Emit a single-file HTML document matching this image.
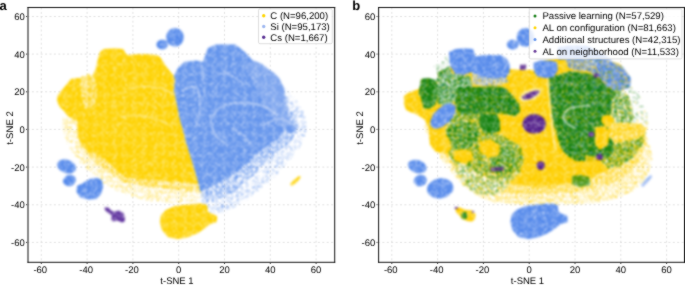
<!DOCTYPE html>
<html><head><meta charset="utf-8"><style>
html,body{margin:0;padding:0;background:#fff;width:685px;height:285px;overflow:hidden}
svg{display:block}
#wrap{width:685px;height:285px}
text{font-family:"Liberation Sans",sans-serif;text-rendering:geometricPrecision}
</style></head><body><div id="wrap">
<svg width="685" height="285" viewBox="0 0 685 285">
<defs><filter id="d10_104" x="0" y="0" width="685" height="285" filterUnits="userSpaceOnUse" color-interpolation-filters="sRGB"><feTurbulence type="fractalNoise" baseFrequency="0.8" numOctaves="1" seed="104" result="n"/><feColorMatrix in="n" type="matrix" values="0 0 0 0 0  0 0 0 0 0  0 0 0 0 0  -20 0 0 0 7.575" result="a"/><feComposite in="SourceGraphic" in2="a" operator="in"/></filter>
<filter id="d10_122" x="0" y="0" width="685" height="285" filterUnits="userSpaceOnUse" color-interpolation-filters="sRGB"><feTurbulence type="fractalNoise" baseFrequency="0.8" numOctaves="1" seed="122" result="n"/><feColorMatrix in="n" type="matrix" values="0 0 0 0 0  0 0 0 0 0  0 0 0 0 0  -20 0 0 0 7.575" result="a"/><feComposite in="SourceGraphic" in2="a" operator="in"/></filter>
<filter id="d10_124" x="0" y="0" width="685" height="285" filterUnits="userSpaceOnUse" color-interpolation-filters="sRGB"><feTurbulence type="fractalNoise" baseFrequency="0.8" numOctaves="1" seed="124" result="n"/><feColorMatrix in="n" type="matrix" values="0 0 0 0 0  0 0 0 0 0  0 0 0 0 0  -20 0 0 0 7.575" result="a"/><feComposite in="SourceGraphic" in2="a" operator="in"/></filter>
<filter id="d14_103" x="0" y="0" width="685" height="285" filterUnits="userSpaceOnUse" color-interpolation-filters="sRGB"><feTurbulence type="fractalNoise" baseFrequency="0.8" numOctaves="1" seed="103" result="n"/><feColorMatrix in="n" type="matrix" values="0 0 0 0 0  0 0 0 0 0  0 0 0 0 0  -20 0 0 0 8.116" result="a"/><feComposite in="SourceGraphic" in2="a" operator="in"/></filter>
<filter id="d15_129" x="0" y="0" width="685" height="285" filterUnits="userSpaceOnUse" color-interpolation-filters="sRGB"><feTurbulence type="fractalNoise" baseFrequency="0.8" numOctaves="1" seed="129" result="n"/><feColorMatrix in="n" type="matrix" values="0 0 0 0 0  0 0 0 0 0  0 0 0 0 0  -20 0 0 0 8.205" result="a"/><feComposite in="SourceGraphic" in2="a" operator="in"/></filter>
<filter id="d16_13" x="0" y="0" width="685" height="285" filterUnits="userSpaceOnUse" color-interpolation-filters="sRGB"><feTurbulence type="fractalNoise" baseFrequency="0.8" numOctaves="1" seed="13" result="n"/><feColorMatrix in="n" type="matrix" values="0 0 0 0 0  0 0 0 0 0  0 0 0 0 0  -20 0 0 0 8.295" result="a"/><feComposite in="SourceGraphic" in2="a" operator="in"/></filter>
<filter id="d18_11" x="0" y="0" width="685" height="285" filterUnits="userSpaceOnUse" color-interpolation-filters="sRGB"><feTurbulence type="fractalNoise" baseFrequency="0.8" numOctaves="1" seed="11" result="n"/><feColorMatrix in="n" type="matrix" values="0 0 0 0 0  0 0 0 0 0  0 0 0 0 0  -20 0 0 0 8.473" result="a"/><feComposite in="SourceGraphic" in2="a" operator="in"/></filter>
<filter id="d22_110" x="0" y="0" width="685" height="285" filterUnits="userSpaceOnUse" color-interpolation-filters="sRGB"><feTurbulence type="fractalNoise" baseFrequency="0.8" numOctaves="1" seed="110" result="n"/><feColorMatrix in="n" type="matrix" values="0 0 0 0 0  0 0 0 0 0  0 0 0 0 0  -20 0 0 0 8.830" result="a"/><feComposite in="SourceGraphic" in2="a" operator="in"/></filter>
<filter id="d26_101" x="0" y="0" width="685" height="285" filterUnits="userSpaceOnUse" color-interpolation-filters="sRGB"><feTurbulence type="fractalNoise" baseFrequency="0.8" numOctaves="1" seed="101" result="n"/><feColorMatrix in="n" type="matrix" values="0 0 0 0 0  0 0 0 0 0  0 0 0 0 0  -20 0 0 0 9.137" result="a"/><feComposite in="SourceGraphic" in2="a" operator="in"/></filter>
<filter id="d30_132" x="0" y="0" width="685" height="285" filterUnits="userSpaceOnUse" color-interpolation-filters="sRGB"><feTurbulence type="fractalNoise" baseFrequency="0.8" numOctaves="1" seed="132" result="n"/><feColorMatrix in="n" type="matrix" values="0 0 0 0 0  0 0 0 0 0  0 0 0 0 0  -20 0 0 0 9.399" result="a"/><feComposite in="SourceGraphic" in2="a" operator="in"/></filter>
<filter id="d33_117" x="0" y="0" width="685" height="285" filterUnits="userSpaceOnUse" color-interpolation-filters="sRGB"><feTurbulence type="fractalNoise" baseFrequency="0.8" numOctaves="1" seed="117" result="n"/><feColorMatrix in="n" type="matrix" values="0 0 0 0 0  0 0 0 0 0  0 0 0 0 0  -20 0 0 0 9.595" result="a"/><feComposite in="SourceGraphic" in2="a" operator="in"/></filter>
<filter id="d35_109" x="0" y="0" width="685" height="285" filterUnits="userSpaceOnUse" color-interpolation-filters="sRGB"><feTurbulence type="fractalNoise" baseFrequency="0.8" numOctaves="1" seed="109" result="n"/><feColorMatrix in="n" type="matrix" values="0 0 0 0 0  0 0 0 0 0  0 0 0 0 0  -20 0 0 0 9.725" result="a"/><feComposite in="SourceGraphic" in2="a" operator="in"/></filter>
<filter id="d35_128" x="0" y="0" width="685" height="285" filterUnits="userSpaceOnUse" color-interpolation-filters="sRGB"><feTurbulence type="fractalNoise" baseFrequency="0.8" numOctaves="1" seed="128" result="n"/><feColorMatrix in="n" type="matrix" values="0 0 0 0 0  0 0 0 0 0  0 0 0 0 0  -20 0 0 0 9.725" result="a"/><feComposite in="SourceGraphic" in2="a" operator="in"/></filter>
<filter id="d35_14" x="0" y="0" width="685" height="285" filterUnits="userSpaceOnUse" color-interpolation-filters="sRGB"><feTurbulence type="fractalNoise" baseFrequency="0.8" numOctaves="1" seed="14" result="n"/><feColorMatrix in="n" type="matrix" values="0 0 0 0 0  0 0 0 0 0  0 0 0 0 0  -20 0 0 0 9.725" result="a"/><feComposite in="SourceGraphic" in2="a" operator="in"/></filter>
<filter id="d4_123" x="0" y="0" width="685" height="285" filterUnits="userSpaceOnUse" color-interpolation-filters="sRGB"><feTurbulence type="fractalNoise" baseFrequency="0.8" numOctaves="1" seed="123" result="n"/><feColorMatrix in="n" type="matrix" values="0 0 0 0 0  0 0 0 0 0  0 0 0 0 0  -20 0 0 0 6.630" result="a"/><feComposite in="SourceGraphic" in2="a" operator="in"/></filter>
<filter id="d40_102" x="0" y="0" width="685" height="285" filterUnits="userSpaceOnUse" color-interpolation-filters="sRGB"><feTurbulence type="fractalNoise" baseFrequency="0.8" numOctaves="1" seed="102" result="n"/><feColorMatrix in="n" type="matrix" values="0 0 0 0 0  0 0 0 0 0  0 0 0 0 0  -20 0 0 0 10.039" result="a"/><feComposite in="SourceGraphic" in2="a" operator="in"/></filter>
<filter id="d40_108" x="0" y="0" width="685" height="285" filterUnits="userSpaceOnUse" color-interpolation-filters="sRGB"><feTurbulence type="fractalNoise" baseFrequency="0.8" numOctaves="1" seed="108" result="n"/><feColorMatrix in="n" type="matrix" values="0 0 0 0 0  0 0 0 0 0  0 0 0 0 0  -20 0 0 0 10.039" result="a"/><feComposite in="SourceGraphic" in2="a" operator="in"/></filter>
<filter id="d40_118" x="0" y="0" width="685" height="285" filterUnits="userSpaceOnUse" color-interpolation-filters="sRGB"><feTurbulence type="fractalNoise" baseFrequency="0.8" numOctaves="1" seed="118" result="n"/><feColorMatrix in="n" type="matrix" values="0 0 0 0 0  0 0 0 0 0  0 0 0 0 0  -20 0 0 0 10.039" result="a"/><feComposite in="SourceGraphic" in2="a" operator="in"/></filter>
<filter id="d40_120" x="0" y="0" width="685" height="285" filterUnits="userSpaceOnUse" color-interpolation-filters="sRGB"><feTurbulence type="fractalNoise" baseFrequency="0.8" numOctaves="1" seed="120" result="n"/><feColorMatrix in="n" type="matrix" values="0 0 0 0 0  0 0 0 0 0  0 0 0 0 0  -20 0 0 0 10.039" result="a"/><feComposite in="SourceGraphic" in2="a" operator="in"/></filter>
<filter id="d45_12" x="0" y="0" width="685" height="285" filterUnits="userSpaceOnUse" color-interpolation-filters="sRGB"><feTurbulence type="fractalNoise" baseFrequency="0.8" numOctaves="1" seed="12" result="n"/><feColorMatrix in="n" type="matrix" values="0 0 0 0 0  0 0 0 0 0  0 0 0 0 0  -20 0 0 0 10.286" result="a"/><feComposite in="SourceGraphic" in2="a" operator="in"/></filter>
<filter id="d5_125" x="0" y="0" width="685" height="285" filterUnits="userSpaceOnUse" color-interpolation-filters="sRGB"><feTurbulence type="fractalNoise" baseFrequency="0.8" numOctaves="1" seed="125" result="n"/><feColorMatrix in="n" type="matrix" values="0 0 0 0 0  0 0 0 0 0  0 0 0 0 0  -20 0 0 0 6.787" result="a"/><feComposite in="SourceGraphic" in2="a" operator="in"/></filter>
<filter id="d50_127" x="0" y="0" width="685" height="285" filterUnits="userSpaceOnUse" color-interpolation-filters="sRGB"><feTurbulence type="fractalNoise" baseFrequency="0.8" numOctaves="1" seed="127" result="n"/><feColorMatrix in="n" type="matrix" values="0 0 0 0 0  0 0 0 0 0  0 0 0 0 0  -20 0 0 0 10.532" result="a"/><feComposite in="SourceGraphic" in2="a" operator="in"/></filter>
<filter id="d55_105" x="0" y="0" width="685" height="285" filterUnits="userSpaceOnUse" color-interpolation-filters="sRGB"><feTurbulence type="fractalNoise" baseFrequency="0.8" numOctaves="1" seed="105" result="n"/><feColorMatrix in="n" type="matrix" values="0 0 0 0 0  0 0 0 0 0  0 0 0 0 0  -20 0 0 0 10.778" result="a"/><feComposite in="SourceGraphic" in2="a" operator="in"/></filter>
<filter id="d6_116" x="0" y="0" width="685" height="285" filterUnits="userSpaceOnUse" color-interpolation-filters="sRGB"><feTurbulence type="fractalNoise" baseFrequency="0.8" numOctaves="1" seed="116" result="n"/><feColorMatrix in="n" type="matrix" values="0 0 0 0 0  0 0 0 0 0  0 0 0 0 0  -20 0 0 0 6.945" result="a"/><feComposite in="SourceGraphic" in2="a" operator="in"/></filter>
<filter id="d6_121" x="0" y="0" width="685" height="285" filterUnits="userSpaceOnUse" color-interpolation-filters="sRGB"><feTurbulence type="fractalNoise" baseFrequency="0.8" numOctaves="1" seed="121" result="n"/><feColorMatrix in="n" type="matrix" values="0 0 0 0 0  0 0 0 0 0  0 0 0 0 0  -20 0 0 0 6.945" result="a"/><feComposite in="SourceGraphic" in2="a" operator="in"/></filter>
<filter id="d6_130" x="0" y="0" width="685" height="285" filterUnits="userSpaceOnUse" color-interpolation-filters="sRGB"><feTurbulence type="fractalNoise" baseFrequency="0.8" numOctaves="1" seed="130" result="n"/><feColorMatrix in="n" type="matrix" values="0 0 0 0 0  0 0 0 0 0  0 0 0 0 0  -20 0 0 0 6.945" result="a"/><feComposite in="SourceGraphic" in2="a" operator="in"/></filter>
<filter id="d60_111" x="0" y="0" width="685" height="285" filterUnits="userSpaceOnUse" color-interpolation-filters="sRGB"><feTurbulence type="fractalNoise" baseFrequency="0.8" numOctaves="1" seed="111" result="n"/><feColorMatrix in="n" type="matrix" values="0 0 0 0 0  0 0 0 0 0  0 0 0 0 0  -20 0 0 0 11.030" result="a"/><feComposite in="SourceGraphic" in2="a" operator="in"/></filter>
<filter id="d60_113" x="0" y="0" width="685" height="285" filterUnits="userSpaceOnUse" color-interpolation-filters="sRGB"><feTurbulence type="fractalNoise" baseFrequency="0.8" numOctaves="1" seed="113" result="n"/><feColorMatrix in="n" type="matrix" values="0 0 0 0 0  0 0 0 0 0  0 0 0 0 0  -20 0 0 0 11.030" result="a"/><feComposite in="SourceGraphic" in2="a" operator="in"/></filter>
<filter id="d60_114" x="0" y="0" width="685" height="285" filterUnits="userSpaceOnUse" color-interpolation-filters="sRGB"><feTurbulence type="fractalNoise" baseFrequency="0.8" numOctaves="1" seed="114" result="n"/><feColorMatrix in="n" type="matrix" values="0 0 0 0 0  0 0 0 0 0  0 0 0 0 0  -20 0 0 0 11.030" result="a"/><feComposite in="SourceGraphic" in2="a" operator="in"/></filter>
<filter id="d65_112" x="0" y="0" width="685" height="285" filterUnits="userSpaceOnUse" color-interpolation-filters="sRGB"><feTurbulence type="fractalNoise" baseFrequency="0.8" numOctaves="1" seed="112" result="n"/><feColorMatrix in="n" type="matrix" values="0 0 0 0 0  0 0 0 0 0  0 0 0 0 0  -20 0 0 0 11.335" result="a"/><feComposite in="SourceGraphic" in2="a" operator="in"/></filter>
<filter id="d65_15" x="0" y="0" width="685" height="285" filterUnits="userSpaceOnUse" color-interpolation-filters="sRGB"><feTurbulence type="fractalNoise" baseFrequency="0.8" numOctaves="1" seed="15" result="n"/><feColorMatrix in="n" type="matrix" values="0 0 0 0 0  0 0 0 0 0  0 0 0 0 0  -20 0 0 0 11.335" result="a"/><feComposite in="SourceGraphic" in2="a" operator="in"/></filter>
<filter id="d67_107" x="0" y="0" width="685" height="285" filterUnits="userSpaceOnUse" color-interpolation-filters="sRGB"><feTurbulence type="fractalNoise" baseFrequency="0.8" numOctaves="1" seed="107" result="n"/><feColorMatrix in="n" type="matrix" values="0 0 0 0 0  0 0 0 0 0  0 0 0 0 0  -20 0 0 0 11.457" result="a"/><feComposite in="SourceGraphic" in2="a" operator="in"/></filter>
<filter id="d7_115" x="0" y="0" width="685" height="285" filterUnits="userSpaceOnUse" color-interpolation-filters="sRGB"><feTurbulence type="fractalNoise" baseFrequency="0.8" numOctaves="1" seed="115" result="n"/><feColorMatrix in="n" type="matrix" values="0 0 0 0 0  0 0 0 0 0  0 0 0 0 0  -20 0 0 0 7.102" result="a"/><feComposite in="SourceGraphic" in2="a" operator="in"/></filter>
<filter id="d75_119" x="0" y="0" width="685" height="285" filterUnits="userSpaceOnUse" color-interpolation-filters="sRGB"><feTurbulence type="fractalNoise" baseFrequency="0.8" numOctaves="1" seed="119" result="n"/><feColorMatrix in="n" type="matrix" values="0 0 0 0 0  0 0 0 0 0  0 0 0 0 0  -20 0 0 0 11.945" result="a"/><feComposite in="SourceGraphic" in2="a" operator="in"/></filter>
<filter id="d75_126" x="0" y="0" width="685" height="285" filterUnits="userSpaceOnUse" color-interpolation-filters="sRGB"><feTurbulence type="fractalNoise" baseFrequency="0.8" numOctaves="1" seed="126" result="n"/><feColorMatrix in="n" type="matrix" values="0 0 0 0 0  0 0 0 0 0  0 0 0 0 0  -20 0 0 0 11.945" result="a"/><feComposite in="SourceGraphic" in2="a" operator="in"/></filter>
<filter id="d8_106" x="0" y="0" width="685" height="285" filterUnits="userSpaceOnUse" color-interpolation-filters="sRGB"><feTurbulence type="fractalNoise" baseFrequency="0.8" numOctaves="1" seed="106" result="n"/><feColorMatrix in="n" type="matrix" values="0 0 0 0 0  0 0 0 0 0  0 0 0 0 0  -20 0 0 0 7.260" result="a"/><feComposite in="SourceGraphic" in2="a" operator="in"/></filter>
<filter id="d85_131" x="0" y="0" width="685" height="285" filterUnits="userSpaceOnUse" color-interpolation-filters="sRGB"><feTurbulence type="fractalNoise" baseFrequency="0.8" numOctaves="1" seed="131" result="n"/><feColorMatrix in="n" type="matrix" values="0 0 0 0 0  0 0 0 0 0  0 0 0 0 0  -20 0 0 0 12.752" result="a"/><feComposite in="SourceGraphic" in2="a" operator="in"/></filter><filter id="soft" x="0" y="0" width="685" height="285" filterUnits="userSpaceOnUse" color-interpolation-filters="sRGB"><feConvolveMatrix order="3" kernelMatrix="1 2 1 2 20 2 1 2 1" divisor="32.0" edgeMode="duplicate"/></filter><filter id="bl" x="0" y="0" width="685" height="285" filterUnits="userSpaceOnUse" color-interpolation-filters="sRGB"><feGaussianBlur stdDeviation="0.8"/></filter><filter id="spk" x="0" y="0" width="685" height="285" filterUnits="userSpaceOnUse" color-interpolation-filters="sRGB"><feTurbulence type="fractalNoise" baseFrequency="0.9" numOctaves="1" seed="3" result="n"/><feColorMatrix in="n" type="matrix" values="0 0 0 0 1  0 0 0 0 1  0 0 0 0 1  6 0 0 0 -3.3" result="w"/><feComposite in="w" in2="SourceAlpha" operator="in" result="wm"/><feMerge result="m"><feMergeNode in="SourceGraphic"/><feMergeNode in="wm"/></feMerge><feComponentTransfer in="m"><feFuncR type="linear" slope="1.1494" intercept="-0.1494"/><feFuncG type="linear" slope="1.1494" intercept="-0.1494"/><feFuncB type="linear" slope="1.1494" intercept="-0.1494"/></feComponentTransfer></filter></defs>
<g filter="url(#soft)">
<rect width="685" height="285" fill="#fff"/>
<clipPath id="c0"><rect x="27.5" y="7.5" width="307.2" height="254.8"/></clipPath>
<line x1="41.3" y1="7.5" x2="41.3" y2="262.3" stroke="#dadada" stroke-width="0.8" stroke-dasharray="2 2.4"/>
<line x1="87.1" y1="7.5" x2="87.1" y2="262.3" stroke="#dadada" stroke-width="0.8" stroke-dasharray="2 2.4"/>
<line x1="132.9" y1="7.5" x2="132.9" y2="262.3" stroke="#dadada" stroke-width="0.8" stroke-dasharray="2 2.4"/>
<line x1="178.7" y1="7.5" x2="178.7" y2="262.3" stroke="#dadada" stroke-width="0.8" stroke-dasharray="2 2.4"/>
<line x1="224.5" y1="7.5" x2="224.5" y2="262.3" stroke="#dadada" stroke-width="0.8" stroke-dasharray="2 2.4"/>
<line x1="270.3" y1="7.5" x2="270.3" y2="262.3" stroke="#dadada" stroke-width="0.8" stroke-dasharray="2 2.4"/>
<line x1="316.1" y1="7.5" x2="316.1" y2="262.3" stroke="#dadada" stroke-width="0.8" stroke-dasharray="2 2.4"/>
<line x1="27.5" y1="242.4" x2="334.7" y2="242.4" stroke="#dadada" stroke-width="0.8" stroke-dasharray="2 2.4"/>
<line x1="27.5" y1="204.8" x2="334.7" y2="204.8" stroke="#dadada" stroke-width="0.8" stroke-dasharray="2 2.4"/>
<line x1="27.5" y1="167.1" x2="334.7" y2="167.1" stroke="#dadada" stroke-width="0.8" stroke-dasharray="2 2.4"/>
<line x1="27.5" y1="129.4" x2="334.7" y2="129.4" stroke="#dadada" stroke-width="0.8" stroke-dasharray="2 2.4"/>
<line x1="27.5" y1="91.8" x2="334.7" y2="91.8" stroke="#dadada" stroke-width="0.8" stroke-dasharray="2 2.4"/>
<line x1="27.5" y1="54.1" x2="334.7" y2="54.1" stroke="#dadada" stroke-width="0.8" stroke-dasharray="2 2.4"/>
<line x1="27.5" y1="16.5" x2="334.7" y2="16.5" stroke="#dadada" stroke-width="0.8" stroke-dasharray="2 2.4"/>
<g clip-path="url(#c0)"><g filter="url(#bl)"><g filter="url(#spk)">
<g filter="url(#d18_11)"><polygon points="62,118 63,132 69,147 79,161 94,176 111,188 130,196 150,201 175,203 200,201 204,195 199,184 180,182 160,180 140,179 125,177 117,171 109.5,163.7 98.4,155.8 85.8,149.5 79.5,140 77.5,135 77,120" fill="#FFD500"/></g>
<g filter="url(#d45_12)"><polygon points="79.5,140 84,152 95,162 108,172 122,182 140,186 160,188 180,190 201,192 199,184 180,182 160,180 140,179 125,177 117,171 109.5,163.7 98.4,155.8 85.8,149.5" fill="#FFD500"/></g>
<polygon points="93,75 96,68 98,59 100,52 104,49 115,48.5 123,49 126,54 129,55.5 133,54.5 145,54 157,55 161,58 166,66 170,71 174,76 175,80 174,90 176,100 178,110 180,120 183,130 186,142 190,155 194,168 197,178 199,184 180,182 160,180 140,179 125,177 117,171 109.5,163.7 98.4,155.8 85.8,149.5 79.5,140 77.5,135 77.4,121 74,120 68,116 63,110 59,106 57,100 58,95 62,90 67,84 71,79 78,78 85,79 90,78" fill="#FFD81A"/>
<polygon points="81,77 88,74 95,78 97,90 96,102 91,110 85,108 82,98 80,88" fill="#FFFFFF"/>
<g filter="url(#d65_15)"><polygon points="81,77 88,74 95,78 97,90 96,102 91,110 85,108 82,98 80,88" fill="#FFD500"/></g>
<polygon points="160,57 168,58 178,60 181,64 176,70 172,74 166,66" fill="#FFFFFF" fill-opacity="0.7"/>
<path d="M128,89 C134,87.5 140,86.5 146,86.5 C152,86.8 158,87.5 163,89 C168,90.5 172,92.5 176,96" fill="none" stroke="#fff" stroke-width="1.6" stroke-opacity="0.45" stroke-linecap="round" stroke-linejoin="round"/>
<path d="M120,117 C126,116 131,115.5 136,115.5 C142,116 147,117 152,118.2 C157,119.5 161,120.5 164,122 C167,123.5 170,125 172.5,127.5" fill="none" stroke="#fff" stroke-width="1.4" stroke-opacity="0.4" stroke-linecap="round" stroke-linejoin="round"/>
<polygon points="174,76 178,68 184,62 196,60.5 203,62 205,56 208,48 216,44.5 235,44.5 240,48 247,54 252,60 262,64 268,69 274,73 279,78 284,88 286,100 288,112 291,124 286,130 278,138 268,146 257,153 249,161 241,169 232,175 222.8,180.7 209,187.5 202,192 200,190 197,178 194,168 190,155 186,142 183,130 180,120 178,110 176,100 174,90 175,80" fill="#78A2EF"/>
<g filter="url(#d16_13)"><polygon points="285,88 292,96 300,105 306,118 306,135 298,150 285,165 272,180 258,192 242,203 225,212 210,214 203,205 200,190 209,187.5 222.8,180.7 232,175 241,169 249,161 257,153 268,146 278,138 286,130 291,124 288,112" fill="#6495ED"/></g>
<g filter="url(#d35_14)"><polygon points="288,108 296,116 298,128 292,140 280,150 268.5,157.8 260,167 252.5,176 243,184 234,192 220,198 205,202 201,196 209,187.5 222.8,180.7 232,175 241,169 249,161 257,153 268,146 278,138 286,130 291,124" fill="#6495ED"/></g>
<ellipse cx="291" cy="127.5" rx="5" ry="4.5" fill="#78A2EF"/>
<polygon points="250,62 262,64 268,69 274,73 279,78 284,88 286,100 288,112 291,124 284,130 272,118 262,100 252,80 244,66" fill="#FFFFFF" fill-opacity="0.15"/>
<path d="M182,90.6 C188,88 194,85 197,88 C201,93 200,105 199.6,115 C199,120 197,124 196,126" fill="none" stroke="#fff" stroke-width="1.6" stroke-opacity="0.45" stroke-linecap="round" stroke-linejoin="round"/>
<path d="M201.3,64 C202,70 203,76 203,81" fill="none" stroke="#fff" stroke-width="1.6" stroke-opacity="0.45" stroke-linecap="round" stroke-linejoin="round"/>
<path d="M213.6,115.2 C216,110 219,107 225,105 C235,102 245,102 256,104 C265,106 272,110 277,115" fill="none" stroke="#fff" stroke-width="1.8" stroke-opacity="0.45" stroke-linecap="round" stroke-linejoin="round"/>
<path d="M210,115 C211,122 212,128 214,133 C218,139 222,142 228,145" fill="none" stroke="#fff" stroke-width="1.6" stroke-opacity="0.45" stroke-linecap="round" stroke-linejoin="round"/>
<path d="M262.7,125.7 C268,122 274,119 280,118.7 C286,119 290,122 294,125.7" fill="none" stroke="#fff" stroke-width="1.6" stroke-opacity="0.45" stroke-linecap="round" stroke-linejoin="round"/>
<path d="M222,70 C228,74 236,78 244,84" fill="none" stroke="#fff" stroke-width="1.2" stroke-opacity="0.5" stroke-linecap="round" stroke-linejoin="round"/>
<path d="M232,128 C240,133 248,138 252,146" fill="none" stroke="#fff" stroke-width="1.2" stroke-opacity="0.5" stroke-linecap="round" stroke-linejoin="round"/>
<ellipse cx="175" cy="37.4" rx="8.8" ry="9.3" fill="#6C9AEE"/>
<ellipse cx="162.2" cy="44.6" rx="5.8" ry="4.9" fill="#6C9AEE"/>
<ellipse cx="66.6" cy="166.4" rx="9.8" ry="6.6" fill="#6C9AEE" transform="rotate(20 66.6 166.4)"/>
<ellipse cx="69.5" cy="180.5" rx="6.6" ry="5.6" fill="#6C9AEE" transform="rotate(-20 69.5 180.5)"/>
<polygon points="77,186 83,183 90,179 97,178 102,180 103,187 101,194 96,199 88,199.6 80,197 76.5,192" fill="#6C9AEE"/>
<polygon points="161,215 166,210 175,206 188,204.5 200,203.5 207,205 208,212 212,214 217,216 217,222 210,224 205,228 198,233 188,237 178,239 168,237 162,230 160,222" fill="#FFD81A"/>
<polygon points="104.5,207.5 108,207.3 110,209.5 112,211 114,212 117,211 119,210.5 121,212 123,212.5 124,215 125,218 124.5,221.5 122,222.5 119,221 116,220.5 113,221.5 111,219.5 112,216.5 110,214 107,212 105,210" fill="#7048A8"/>
<polygon points="290,184 294,180 299,176 301,177 297,182 292,186" fill="#FFD81A"/>
</g></g></g>
<rect x="27.5" y="7" width="307.7" height="1" fill="#111"/>
<rect x="27.5" y="7" width="1" height="255.8" fill="#111"/>
<rect x="334.2" y="7" width="1" height="255.8" fill="#111"/>
<rect x="27.5" y="261.8" width="307.7" height="1" fill="#111"/>
<rect x="40.8" y="263" width="1" height="1" fill="#333"/>
<text x="40.3" y="273.2" font-size="9.5" text-anchor="middle" fill="#000">-60</text>
<rect x="86.6" y="263" width="1" height="1" fill="#333"/>
<text x="86.1" y="273.2" font-size="9.5" text-anchor="middle" fill="#000">-40</text>
<rect x="132.4" y="263" width="1" height="1" fill="#333"/>
<text x="131.9" y="273.2" font-size="9.5" text-anchor="middle" fill="#000">-20</text>
<rect x="178.2" y="263" width="1" height="1" fill="#333"/>
<text x="178.7" y="273.2" font-size="9.5" text-anchor="middle" fill="#000">0</text>
<rect x="224.0" y="263" width="1" height="1" fill="#333"/>
<text x="224.5" y="273.2" font-size="9.5" text-anchor="middle" fill="#000">20</text>
<rect x="269.8" y="263" width="1" height="1" fill="#333"/>
<text x="270.3" y="273.2" font-size="9.5" text-anchor="middle" fill="#000">40</text>
<rect x="315.6" y="263" width="1" height="1" fill="#333"/>
<text x="316.1" y="273.2" font-size="9.5" text-anchor="middle" fill="#000">60</text>
<rect x="26.0" y="241.9" width="1" height="1" fill="#333"/>
<text x="24.8" y="245.8" font-size="9.5" text-anchor="end" fill="#000">-60</text>
<rect x="26.0" y="204.2" width="1" height="1" fill="#333"/>
<text x="24.8" y="208.2" font-size="9.5" text-anchor="end" fill="#000">-40</text>
<rect x="26.0" y="166.6" width="1" height="1" fill="#333"/>
<text x="24.8" y="170.5" font-size="9.5" text-anchor="end" fill="#000">-20</text>
<rect x="26.0" y="128.9" width="1" height="1" fill="#333"/>
<text x="24.8" y="132.8" font-size="9.5" text-anchor="end" fill="#000">0</text>
<rect x="26.0" y="91.3" width="1" height="1" fill="#333"/>
<text x="24.8" y="95.2" font-size="9.5" text-anchor="end" fill="#000">20</text>
<rect x="26.0" y="53.6" width="1" height="1" fill="#333"/>
<text x="24.8" y="57.5" font-size="9.5" text-anchor="end" fill="#000">40</text>
<rect x="26.0" y="16.0" width="1" height="1" fill="#333"/>
<text x="24.8" y="19.9" font-size="9.5" text-anchor="end" fill="#000">60</text>
<text x="177" y="284.2" font-size="9.5" text-anchor="middle" fill="#000">t-SNE 1</text>
<text transform="translate(12.9,128) rotate(-90)" font-size="9.6" text-anchor="middle" fill="#000">t-SNE 2</text>
<rect x="258.5" y="8.9" width="73.8" height="34.8" rx="1.5" fill="#fff" fill-opacity="0.82" stroke="#d4d4d4" stroke-width="0.8"/>
<circle cx="263.7" cy="15.7" r="1.7" fill="#FFD500"/>
<text x="270.3" y="19.0" font-size="9.6" fill="#000">C (N=96,200)</text>
<circle cx="263.7" cy="26.5" r="1.7" fill="#9db7f0"/>
<text x="270.3" y="29.8" font-size="9.6" fill="#000">Si (N=95,173)</text>
<circle cx="263.7" cy="37.3" r="1.7" fill="#5B3294"/>
<text x="270.3" y="40.6" font-size="9.6" fill="#000">Cs (N=1,667)</text>
<text x="-0.6" y="10" font-size="13" font-weight="bold" fill="#000">a</text>
<clipPath id="c350"><rect x="378.0" y="7.5" width="307.20000000000005" height="254.8"/></clipPath>
<line x1="391.8" y1="7.5" x2="391.8" y2="262.3" stroke="#dadada" stroke-width="0.8" stroke-dasharray="2 2.4"/>
<line x1="437.6" y1="7.5" x2="437.6" y2="262.3" stroke="#dadada" stroke-width="0.8" stroke-dasharray="2 2.4"/>
<line x1="483.4" y1="7.5" x2="483.4" y2="262.3" stroke="#dadada" stroke-width="0.8" stroke-dasharray="2 2.4"/>
<line x1="529.2" y1="7.5" x2="529.2" y2="262.3" stroke="#dadada" stroke-width="0.8" stroke-dasharray="2 2.4"/>
<line x1="575.0" y1="7.5" x2="575.0" y2="262.3" stroke="#dadada" stroke-width="0.8" stroke-dasharray="2 2.4"/>
<line x1="620.8" y1="7.5" x2="620.8" y2="262.3" stroke="#dadada" stroke-width="0.8" stroke-dasharray="2 2.4"/>
<line x1="666.6" y1="7.5" x2="666.6" y2="262.3" stroke="#dadada" stroke-width="0.8" stroke-dasharray="2 2.4"/>
<line x1="378.0" y1="242.4" x2="685.2" y2="242.4" stroke="#dadada" stroke-width="0.8" stroke-dasharray="2 2.4"/>
<line x1="378.0" y1="204.8" x2="685.2" y2="204.8" stroke="#dadada" stroke-width="0.8" stroke-dasharray="2 2.4"/>
<line x1="378.0" y1="167.1" x2="685.2" y2="167.1" stroke="#dadada" stroke-width="0.8" stroke-dasharray="2 2.4"/>
<line x1="378.0" y1="129.4" x2="685.2" y2="129.4" stroke="#dadada" stroke-width="0.8" stroke-dasharray="2 2.4"/>
<line x1="378.0" y1="91.8" x2="685.2" y2="91.8" stroke="#dadada" stroke-width="0.8" stroke-dasharray="2 2.4"/>
<line x1="378.0" y1="54.1" x2="685.2" y2="54.1" stroke="#dadada" stroke-width="0.8" stroke-dasharray="2 2.4"/>
<line x1="378.0" y1="16.5" x2="685.2" y2="16.5" stroke="#dadada" stroke-width="0.8" stroke-dasharray="2 2.4"/>
<g clip-path="url(#c350)"><g filter="url(#bl)"><g filter="url(#spk)">
<g filter="url(#d26_101)"><polygon points="424,126 430,140 438,154 448,168 460,182 474,194 492,202 515,205 545,205 575,204 600,202 620,197 634,190 645,180 651,168 652,155 648,140 640,128 630,122 500,125 430,120" fill="#FFD500"/></g>
<g filter="url(#d40_102)"><polygon points="440,150 452,165 466,178 482,188 500,193 530,194 560,193 588,190 610,184 626,175 638,162 645,148 646,135 638,125 600,125 500,130" fill="#FFD500"/></g>
<polygon points="404,100 407,93 413,91 419,89 421,83 436,82 440,80 449,72 452,62 458,58 472,58 480,59 500,58 507,60 509,69 520,70 536,70 536,62 550,59 560,58 600,59 620,64 627,74 627,86 620,94 616,104 616,116 624,121 634,124 644,130 640,140 632,150 622,160 605,172 580,182 550,186 520,186 500,182 480,174 462,162 452,156 444,153 434,147 430,138 429,128 424,119 416,114 406,110" fill="#FFD50A"/>
<polygon points="437,72 449,66 452,74 470,76 472,86 466,92 456,100 446,106 438,104 437,90" fill="#FFFFFF"/>
<g filter="url(#d14_103)"><polygon points="437,72 449,66 452,74 470,76 472,86 466,92 456,100 446,106 438,104 437,90" fill="#FFD500"/></g>
<g filter="url(#d10_104)"><polygon points="437,72 449,66 452,74 470,76 472,86 466,92 456,100 446,106 438,104 437,90" fill="#6495ED"/></g>
<g filter="url(#d55_105)"><polygon points="437,72 449,66 452,74 470,76 472,86 466,92 456,100 446,106 438,104 437,90" fill="#228B22"/></g>
<polygon points="438,60 449,56 450,66 437,72 434,66" fill="#FFFFFF"/>
<g filter="url(#d8_106)"><polygon points="438,60 449,56 450,66 437,72 434,66" fill="#228B22"/></g>
<polygon points="449,118 456,112 470,114 480,114 483,131 492,134 500,134 510,140 520,146 524,158 520,172 512,180 500,186 490,190 476,188 464,178 456,166 450,156 446,145 446,130" fill="#FFFFFF"/>
<g filter="url(#d67_107)"><polygon points="449,118 456,112 470,114 480,114 483,131 492,134 500,134 510,140 520,146 524,158 520,172 512,180 500,186 490,190 476,188 464,178 456,166 450,156 446,145 446,130" fill="#FFD500"/></g>
<g filter="url(#d40_108)"><polygon points="449,118 456,112 470,114 480,114 483,131 492,134 500,134 510,140 520,146 524,158 520,172 512,180 500,186 490,190 476,188 464,178 456,166 450,156 446,145 446,130" fill="#228B22"/></g>
<polygon points="458,160 470,168 482,176 494,180 505,178 512,180 504,190 494,195 478,194 464,186 456,172" fill="#FFFFFF"/>
<g filter="url(#d35_109)"><polygon points="458,160 470,168 482,176 494,180 505,178 512,180 504,190 494,195 478,194 464,186 456,172" fill="#FFD500"/></g>
<g filter="url(#d22_110)"><polygon points="458,160 470,168 482,176 494,180 505,178 512,180 504,190 494,195 478,194 464,186 456,172" fill="#228B22"/></g>
<polygon points="446,128 456,122 470,122 479,128 478,140 470,148 458,150 448,145" fill="#FFFFFF"/>
<g filter="url(#d60_111)"><polygon points="446,128 456,122 470,122 479,128 478,140 470,148 458,150 448,145" fill="#FFD500"/></g>
<g filter="url(#d65_112)"><polygon points="446,128 456,122 470,122 479,128 478,140 470,148 458,150 448,145" fill="#228B22"/></g>
<polygon points="490,148 505,146 514,152 516,163 508,175 496,173 489,161" fill="#FFFFFF"/>
<g filter="url(#d60_113)"><polygon points="490,148 505,146 514,152 516,163 508,175 496,173 489,161" fill="#FFD500"/></g>
<g filter="url(#d60_114)"><polygon points="490,148 505,146 514,152 516,163 508,175 496,173 489,161" fill="#228B22"/></g>
<polygon points="626,82 636,90 644,104 648,118 648,128 633,130 633,105" fill="#FFFFFF"/>
<g filter="url(#d7_115)"><polygon points="626,82 636,90 644,104 648,118 648,128 633,130 633,105" fill="#FFD500"/></g>
<g filter="url(#d6_116)"><polygon points="626,82 636,90 644,104 648,118 648,128 633,130 633,105" fill="#228B22"/></g>
<polygon points="612,88 620,89 628,95 632,105 633,118 631,128 624,130 614,128 610,112" fill="#FFFFFF"/>
<g filter="url(#d33_117)"><polygon points="612,88 620,89 628,95 632,105 633,118 631,128 624,130 614,128 610,112" fill="#FFD500"/></g>
<g filter="url(#d40_118)"><polygon points="612,88 620,89 628,95 632,105 633,118 631,128 624,130 614,128 610,112" fill="#228B22"/></g>
<polygon points="606,128 622,130 636,130 646,132 642,146 634,156 622,166 608,168 600,160 604,145" fill="#FFFFFF"/>
<g filter="url(#d75_119)"><polygon points="606,128 622,130 636,130 646,132 642,146 634,156 622,166 608,168 600,160 604,145" fill="#FFD500"/></g>
<g filter="url(#d40_120)"><polygon points="606,128 622,130 636,130 646,132 642,146 634,156 622,166 608,168 600,160 604,145" fill="#228B22"/></g>
<polygon points="421,79 428,78 436,80 438,90 437,100 435,105 430,108.5 423,108.5 418,103 419,92" fill="#30902A"/>
<g filter="url(#d6_121)"><polygon points="421,79 428,78 436,80 438,90 437,100 435,105 430,108.5 423,108.5 418,103 419,92" fill="#FFD500"/></g>
<polygon points="457,88 470,87 480,87 494,86 505,88 513,96 519,104 520,112 515,116 505,114 495,113 480,114 468,115 458,113 455,102" fill="#30902A"/>
<g filter="url(#d10_122)"><polygon points="457,88 470,87 480,87 494,86 505,88 513,96 519,104 520,112 515,116 505,114 495,113 480,114 468,115 458,113 455,102" fill="#FFD500"/></g>
<g filter="url(#d4_123)"><polygon points="457,88 470,87 480,87 494,86 505,88 513,96 519,104 520,112 515,116 505,114 495,113 480,114 468,115 458,113 455,102" fill="#6495ED"/></g>
<polygon points="480,114 497,114 500,122 500,131 492,134 483,131 479,123" fill="#30902A"/>
<polygon points="549,76 556,75.6 570,71.2 585,73 596,75.6 606,86 616.6,93.3 612,100 610,115 608,130 612,140 615,148 610,156 600,160 588,161 576,161 568,156 562,150 559,142 556,132 553,122 551.8,110 550,95" fill="#30902A"/>
<g filter="url(#d10_124)"><polygon points="549,76 556,75.6 570,71.2 585,73 596,75.6 606,86 616.6,93.3 612,100 610,115 608,130 612,140 615,148 610,156 600,160 588,161 576,161 568,156 562,150 559,142 556,132 553,122 551.8,110 550,95" fill="#FFD500"/></g>
<g filter="url(#d5_125)"><polygon points="549,76 556,75.6 570,71.2 585,73 596,75.6 606,86 616.6,93.3 612,100 610,115 608,130 612,140 615,148 610,156 600,160 588,161 576,161 568,156 562,150 559,142 556,132 553,122 551.8,110 550,95" fill="#6495ED"/></g>
<polygon points="572,176 580,175 589,177 590,185 580,187 572,184" fill="#30902A" fill-opacity="0.75"/>
<path d="M574,107.6 C580,106.5 585,106 590,105.8" fill="none" stroke="#fff" stroke-opacity="0.6" stroke-width="1.5"/>
<path d="M547.5,76 C548.5,88 550,104 551.5,122 C552.5,132 554,142 556,150" fill="none" stroke="#fff" stroke-opacity="0.55" stroke-width="2"/>
<path d="M574,107.6 C569,108 565,111 563.7,115.5 C563,119 564,121 566,122.5 C568,124.5 571,126 575.5,128.5" fill="none" stroke="#fff" stroke-opacity="0.7" stroke-width="1.6"/>
<polygon points="404,96 412,92 420,95 423,105 425,112 424,117 418,114 410,112 404,106" fill="#FFD50A"/>
<polygon points="429,132 436,130 446,134 450,140 452,148 446,152 436,152 430,145" fill="#FFD50A"/>
<polygon points="452,151 462,149 472,151 473,160 465,164 455,161" fill="#FFD50A"/>
<polygon points="479,141 492,139.8 500,146 499,156 488,158 480,152" fill="#FFD50A"/>
<polygon points="602,116 608,114.5 614,118 613.6,126 606,127.4 601.5,122" fill="#FFD50A"/>
<polygon points="608,124 622,122 640,124 647,128 644,136 632,140 615,143 608,136" fill="#FFFFFF"/>
<g filter="url(#d75_126)"><polygon points="608,124 622,122 640,124 647,128 644,136 632,140 615,143 608,136" fill="#FFD500"/></g>
<polygon points="595,127 605,126 610,132 608,145 600,150 595,145" fill="#FFD50A"/>
<ellipse cx="591.2" cy="134.4" rx="3.2" ry="2.4" fill="#6A3D9A"/>
<polygon points="554,57.7 566,57.7 566,72.4 555,73" fill="#FFD50A"/>
<polygon points="585,155 598,157 600,168 590,173 585,168" fill="#FFD50A" fill-opacity="0.8"/>
<polygon points="449,52 456,49 466,48.5 473,49 475,55 474,65 472,72 464,75 455,74 450,66" fill="#6C9AEE"/>
<polygon points="471,57 485,55 500,55 506,58 509.7,64 509.7,72 506,78 495,79 480,77 472,73" fill="#6C9AEE"/>
<polygon points="472,73 480,77 495,79 506,78 509,82 500,85 485,86 472,84" fill="#FFFFFF"/>
<g filter="url(#d50_127)"><polygon points="472,73 480,77 495,79 506,78 509,82 500,85 485,86 472,84" fill="#FFD500"/></g>
<g filter="url(#d35_128)"><polygon points="472,73 480,77 495,79 506,78 509,82 500,85 485,86 472,84" fill="#6495ED"/></g>
<ellipse cx="443" cy="116" rx="16" ry="8.5" fill="#6C9AEE" transform="rotate(-45 443 116)"/>
<polygon points="533.5,63 540,60.6 550,60.5 557,62 558,70 554,77 546,78.3 538,77 534,72" fill="#6C9AEE"/>
<polygon points="558,47 570,45.4 586,45.4 597,50 606,56 612,59.4 558,59.4" fill="#6C9AEE"/>
<polygon points="566,59.4 602,59.4 610,61 622.5,66.8 630.7,78 630,88 620,90 614,90 606,86 598,76 588,71 575,70 568,67" fill="#6C9AEE"/>
<g filter="url(#d15_129)"><polygon points="566,59.4 602,59.4 610,61 622.5,66.8 630.7,78 630,88 620,90 614,90 606,86 598,76 588,71 575,70 568,67" fill="#FFD500"/></g>
<g filter="url(#d6_130)"><polygon points="566,59.4 602,59.4 610,61 622.5,66.8 630.7,78 630,88 620,90 614,90 606,86 598,76 588,71 575,70 568,67" fill="#228B22"/></g>
<polygon points="566,59.4 590,59.4 598,64 598,72 588,71 575,70 568,67" fill="#FFFFFF"/>
<g filter="url(#d85_131)"><polygon points="566,59.4 590,59.4 598,64 598,72 588,71 575,70 568,67" fill="#6495ED"/></g>
<g filter="url(#d30_132)"><polygon points="566,59.4 590,59.4 598,64 598,72 588,71 575,70 568,67" fill="#FFD500"/></g>
<ellipse cx="525.5" cy="37.4" rx="8.8" ry="9.3" fill="#6C9AEE"/>
<ellipse cx="512.7" cy="44.6" rx="5.8" ry="4.9" fill="#6C9AEE"/>
<ellipse cx="417.3" cy="166.5" rx="9.6" ry="6.4" fill="#6C9AEE" transform="rotate(20 417.3 166.5)"/>
<ellipse cx="420.3" cy="180.6" rx="6.6" ry="5.6" fill="#6C9AEE" transform="rotate(-20 420.3 180.6)"/>
<ellipse cx="440.2" cy="188.4" rx="13.2" ry="10" fill="#6C9AEE" transform="rotate(-8 440.2 188.4)"/>
<polygon points="511.5,215 516.5,210 525.5,206 538.5,204.5 550.5,203.5 557.5,205 558.5,212 562.5,214 567.5,216 567.5,222 560.5,224 555.5,228 548.5,233 538.5,237 528.5,239 518.5,237 512.5,230 510.5,222" fill="#6C9AEE"/>
<polygon points="641,185 646,179 651,174.7 652,177 647,183 643,187" fill="#6C9AEE" fill-opacity="0.6"/>
<ellipse cx="596" cy="75.5" rx="3" ry="2.5" fill="#6A3D9A" fill-opacity="0.8"/>
<polygon points="520,65 526,64.5 526,69.5 520,70" fill="#6A3D9A"/>
<polygon points="518,98 525,91 534,87.5 542,88.5 540,95 532,100.5 522,101.5" fill="#FFFFFF" fill-opacity="0.6"/>
<polygon points="521.5,97 528,93 535,90.5 540,91 537,95 530,99 524,99.5" fill="#6A3D9A"/>
<ellipse cx="534.2" cy="123.9" rx="11.8" ry="9.9" fill="#6A3D9A"/>
<ellipse cx="540.7" cy="165.6" rx="4.3" ry="4.4" fill="#6A3D9A"/>
<ellipse cx="599.5" cy="157" rx="3.5" ry="3" fill="#6A3D9A"/>
<polygon points="490,167.4 504,166.5 504,170.5 491,171.8" fill="#6A3D9A" fill-opacity="0.8"/>
<polygon points="455.5,208 460,207.5 463,209 467,210 472,210.5 475.5,214 475,219 472,221.5 467,221 462,219 459,215 456,212" fill="#FFD50A"/>
<polygon points="462,212.4 466,212 467.5,216 466,219 462,218.5 461.5,215" fill="#30902A"/>
<ellipse cx="456.3" cy="208" rx="1.8" ry="1.1" fill="#6A3D9A"/>
<ellipse cx="473" cy="212" rx="1.2" ry="0.9" fill="#6A3D9A"/>
</g></g></g>
<rect x="378.1" y="7" width="306.9" height="1" fill="#111"/>
<rect x="378.1" y="7" width="1" height="255.8" fill="#111"/>
<rect x="684.0" y="7" width="1" height="255.8" fill="#111"/>
<rect x="378.1" y="261.8" width="306.9" height="1" fill="#111"/>
<rect x="391.3" y="263" width="1" height="1" fill="#333"/>
<text x="390.8" y="273.2" font-size="9.5" text-anchor="middle" fill="#000">-60</text>
<rect x="437.1" y="263" width="1" height="1" fill="#333"/>
<text x="436.6" y="273.2" font-size="9.5" text-anchor="middle" fill="#000">-40</text>
<rect x="482.9" y="263" width="1" height="1" fill="#333"/>
<text x="482.4" y="273.2" font-size="9.5" text-anchor="middle" fill="#000">-20</text>
<rect x="528.7" y="263" width="1" height="1" fill="#333"/>
<text x="529.2" y="273.2" font-size="9.5" text-anchor="middle" fill="#000">0</text>
<rect x="574.5" y="263" width="1" height="1" fill="#333"/>
<text x="575.0" y="273.2" font-size="9.5" text-anchor="middle" fill="#000">20</text>
<rect x="620.3" y="263" width="1" height="1" fill="#333"/>
<text x="620.8" y="273.2" font-size="9.5" text-anchor="middle" fill="#000">40</text>
<rect x="666.1" y="263" width="1" height="1" fill="#333"/>
<text x="666.6" y="273.2" font-size="9.5" text-anchor="middle" fill="#000">60</text>
<rect x="376.5" y="241.9" width="1" height="1" fill="#333"/>
<text x="375.3" y="245.8" font-size="9.5" text-anchor="end" fill="#000">-60</text>
<rect x="376.5" y="204.2" width="1" height="1" fill="#333"/>
<text x="375.3" y="208.2" font-size="9.5" text-anchor="end" fill="#000">-40</text>
<rect x="376.5" y="166.6" width="1" height="1" fill="#333"/>
<text x="375.3" y="170.5" font-size="9.5" text-anchor="end" fill="#000">-20</text>
<rect x="376.5" y="128.9" width="1" height="1" fill="#333"/>
<text x="375.3" y="132.8" font-size="9.5" text-anchor="end" fill="#000">0</text>
<rect x="376.5" y="91.3" width="1" height="1" fill="#333"/>
<text x="375.3" y="95.2" font-size="9.5" text-anchor="end" fill="#000">20</text>
<rect x="376.5" y="53.6" width="1" height="1" fill="#333"/>
<text x="375.3" y="57.5" font-size="9.5" text-anchor="end" fill="#000">40</text>
<rect x="376.5" y="16.0" width="1" height="1" fill="#333"/>
<text x="375.3" y="19.9" font-size="9.5" text-anchor="end" fill="#000">60</text>
<text x="527.5" y="284.2" font-size="9.5" text-anchor="middle" fill="#000">t-SNE 1</text>
<text transform="translate(363.4,128) rotate(-90)" font-size="9.6" text-anchor="middle" fill="#000">t-SNE 2</text>
<rect x="529.3" y="9" width="152.7" height="49.9" rx="1.5" fill="#fff" fill-opacity="0.82" stroke="#d4d4d4" stroke-width="0.8"/>
<circle cx="535" cy="15.9" r="1.5" fill="#187F18"/>
<text x="542.4" y="19.2" font-size="9.62" fill="#000">Passive learning (N=57,529)</text>
<circle cx="535" cy="27.7" r="1.5" fill="#FFD500"/>
<text x="542.4" y="31.0" font-size="9.62" fill="#000">AL on configuration (N=81,663)</text>
<circle cx="535" cy="39.5" r="1.5" fill="#6495ED"/>
<text x="542.4" y="42.8" font-size="9.62" fill="#000">Additional structures (N=42,315)</text>
<circle cx="535" cy="51.2" r="1.5" fill="#6A3D9A"/>
<text x="542.4" y="54.5" font-size="9.62" fill="#000">AL on neighborhood (N=11,533)</text>
<text x="352.2" y="10" font-size="13" font-weight="bold" fill="#000">b</text>
</g>
</svg></div>
</body></html>
